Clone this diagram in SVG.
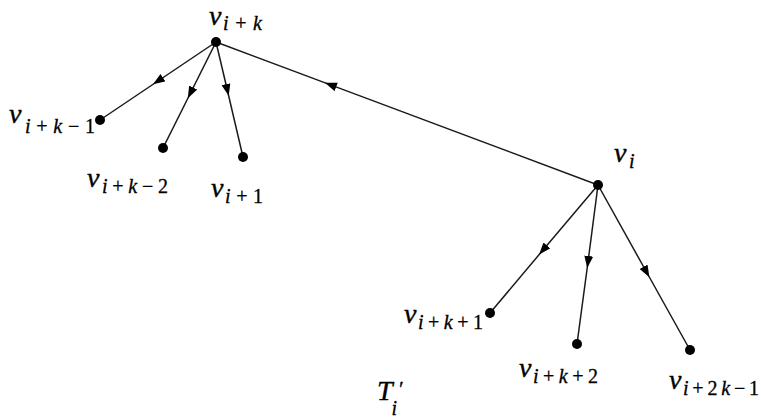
<svg xmlns="http://www.w3.org/2000/svg" width="761" height="419" viewBox="0 0 761 419">
<style>
.e{fill:none;stroke:#1a1a1a;stroke-width:1.5;marker-mid:url(#ar)}
.n{fill:#000}
.v{font-family:"Liberation Serif","DejaVu Serif",serif;font-style:italic;font-size:28px;fill:#000;stroke:#000;stroke-width:0.4}
.s{font-family:"Liberation Serif","DejaVu Serif",serif;font-size:20px;fill:#000;stroke:#000;stroke-width:0.3}
.si{font-style:italic}
.up{font-style:normal}
</style>
<defs>
<marker id="ar" markerUnits="userSpaceOnUse" markerWidth="12" markerHeight="10" refX="6" refY="4.5" orient="auto">
<path d="M0,0 L12,4.5 L0,9 z" fill="#000"/>
</marker>
</defs>
<rect width="761" height="419" fill="#fff"/>
<g id="connectors">
<path class="e" d="M216,42 L158,81 L100,120"/>
<path class="e" d="M216,42 L190.5,93 L163,148"/>
<path class="e" d="M216,42 L227.3,90 L243,157"/>
<path class="e" d="M598,185 L330.6,84.9 L216,42"/>
<path class="e" d="M598,185 L543,250 L490,313"/>
<path class="e" d="M598,185 L588,262 L577,344"/>
<path class="e" d="M598,185 L646.5,272 L690,350"/>
</g>
<g id="v_ik"><circle class="n" cx="216" cy="42" r="5"/><text class="v" x="209" y="25">v</text><text class="s" x="223" y="30" textLength="39" lengthAdjust="spacing"><tspan class="si">i</tspan>+<tspan class="si">k</tspan></text></g>
<g id="v_ik-1"><circle class="n" cx="100" cy="120" r="5"/><text class="v" x="9" y="123">v</text><text class="s" x="25" y="133" textLength="70" lengthAdjust="spacing"><tspan class="si">i</tspan>+<tspan class="si">k</tspan>−1</text></g>
<g id="v_ik-2"><circle class="n" cx="163" cy="148" r="5"/><text class="v" x="87" y="187">v</text><text class="s" x="102" y="193" textLength="66" lengthAdjust="spacing"><tspan class="si">i</tspan>+<tspan class="si">k</tspan>−2</text></g>
<g id="v_i1"><circle class="n" cx="243" cy="157" r="5"/><text class="v" x="211" y="197">v</text><text class="s" x="225" y="203" textLength="38" lengthAdjust="spacing"><tspan class="si">i</tspan>+1</text></g>
<g id="v_i"><circle class="n" cx="598" cy="185" r="5"/><text class="v" x="614" y="162">v</text><text class="s si" x="629" y="168">i</text></g>
<g id="v_ik1"><circle class="n" cx="490" cy="313" r="5"/><text class="v" x="404" y="323">v</text><text class="s" x="418" y="329" textLength="65" lengthAdjust="spacing"><tspan class="si">i</tspan>+<tspan class="si">k</tspan>+1</text></g>
<g id="v_ik2"><circle class="n" cx="577" cy="344" r="5"/><text class="v" x="519" y="377">v</text><text class="s" x="533" y="383" textLength="65" lengthAdjust="spacing"><tspan class="si">i</tspan>+<tspan class="si">k</tspan>+2</text></g>
<g id="v_i2k-1"><circle class="n" cx="690" cy="350" r="5"/><text class="v" x="669" y="389">v</text><text class="s" x="683" y="395" textLength="76" lengthAdjust="spacing"><tspan class="si">i</tspan>+2<tspan class="si">k</tspan>−1</text></g>
<g id="T_i"><text class="v" x="377" y="400">T<tspan class="up" x="399" y="396" style="font-size:22px;stroke-width:0.3">′</tspan><tspan x="391.5" y="415" style="font-size:20px;stroke-width:0.3">i</tspan></text></g>
</svg>
